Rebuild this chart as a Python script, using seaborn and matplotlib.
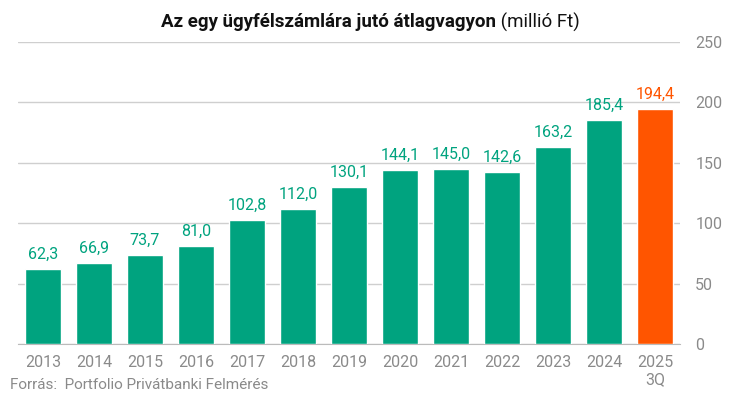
import pandas as pd
import seaborn as sns
import matplotlib.pyplot as plt

# Data
years = ["2013", "2014", "2015", "2016", "2017", "2018", "2019",
         "2020", "2021", "2022", "2023", "2024", "2025\n3Q"]
values = [62.3, 66.9, 73.7, 81.0, 102.8, 112.0, 130.1,
          144.1, 145.0, 142.6, 163.2, 185.4, 194.4]
y_ticks = [0, 50, 100, 150, 200, 250]

GREEN = "#00A37F"
ORANGE = "#FF5500"
GREY = "#8a8a8a"

df = pd.DataFrame({"year": years, "value": values})
colors = [GREEN] * (len(years) - 1) + [ORANGE]

sns.set_style("white")
plt.rcParams["font.family"] = ["Roboto", "DejaVu Sans"]

fig = plt.figure(figsize=(7.4, 3.99), dpi=100)
ax = fig.add_axes([18 / 740, 55 / 399, 662 / 740, 302 / 399])

sns.barplot(data=df, x="year", y="value", hue="year", palette=colors,
            legend=False, width=0.72, saturation=1, ax=ax, zorder=3)

ax.set_xlim(-0.49, len(years) - 0.51)
ax.set_ylim(0, 250)
ax.set_yticks(y_ticks)
ax.yaxis.tick_right()
ax.tick_params(axis="y", length=0, pad=11, labelsize=11.5, labelcolor=GREY)
ax.tick_params(axis="x", length=0, pad=8, labelsize=11.5, labelcolor=GREY)
ax.set_xlabel("")
ax.set_ylabel("")
ax.grid(axis="y", color="#cfcfcf", linewidth=1, zorder=0)
for s in ["top", "left", "right"]:
    ax.spines[s].set_visible(False)
ax.spines["bottom"].set_color("#bbbbbb")

# value labels with comma decimals
for i, v in enumerate(values):
    ax.text(i, v + 6, f"{v:.1f}".replace(".", ","), ha="center", va="bottom",
            fontsize=11.5, color=colors[i])

# two-part title: bold + regular, centred together
fig.canvas.draw()
r = fig.canvas.get_renderer()
t1 = fig.text(0, 0.945, "Az egy ügyfélszámlára jutó átlagvagyon", ha="left",
              va="center", fontsize=13.5, fontweight="bold", color="#111111")
t2 = fig.text(0, 0.945, " (millió Ft)", ha="left", va="center", fontsize=13.5,
              color="#111111")
w1 = t1.get_window_extent(r).width
w2 = t2.get_window_extent(r).width
x0 = (740 - w1 - w2) / 2
t1.set_x(x0 / 740)
t2.set_x((x0 + w1) / 740)

fig.text(10 / 740, 14 / 399, "Forrás:  Portfolio Privátbanki Felmérés",
         ha="left", va="center", fontsize=11, color=GREY)

plt.savefig("out.png", dpi=100)
